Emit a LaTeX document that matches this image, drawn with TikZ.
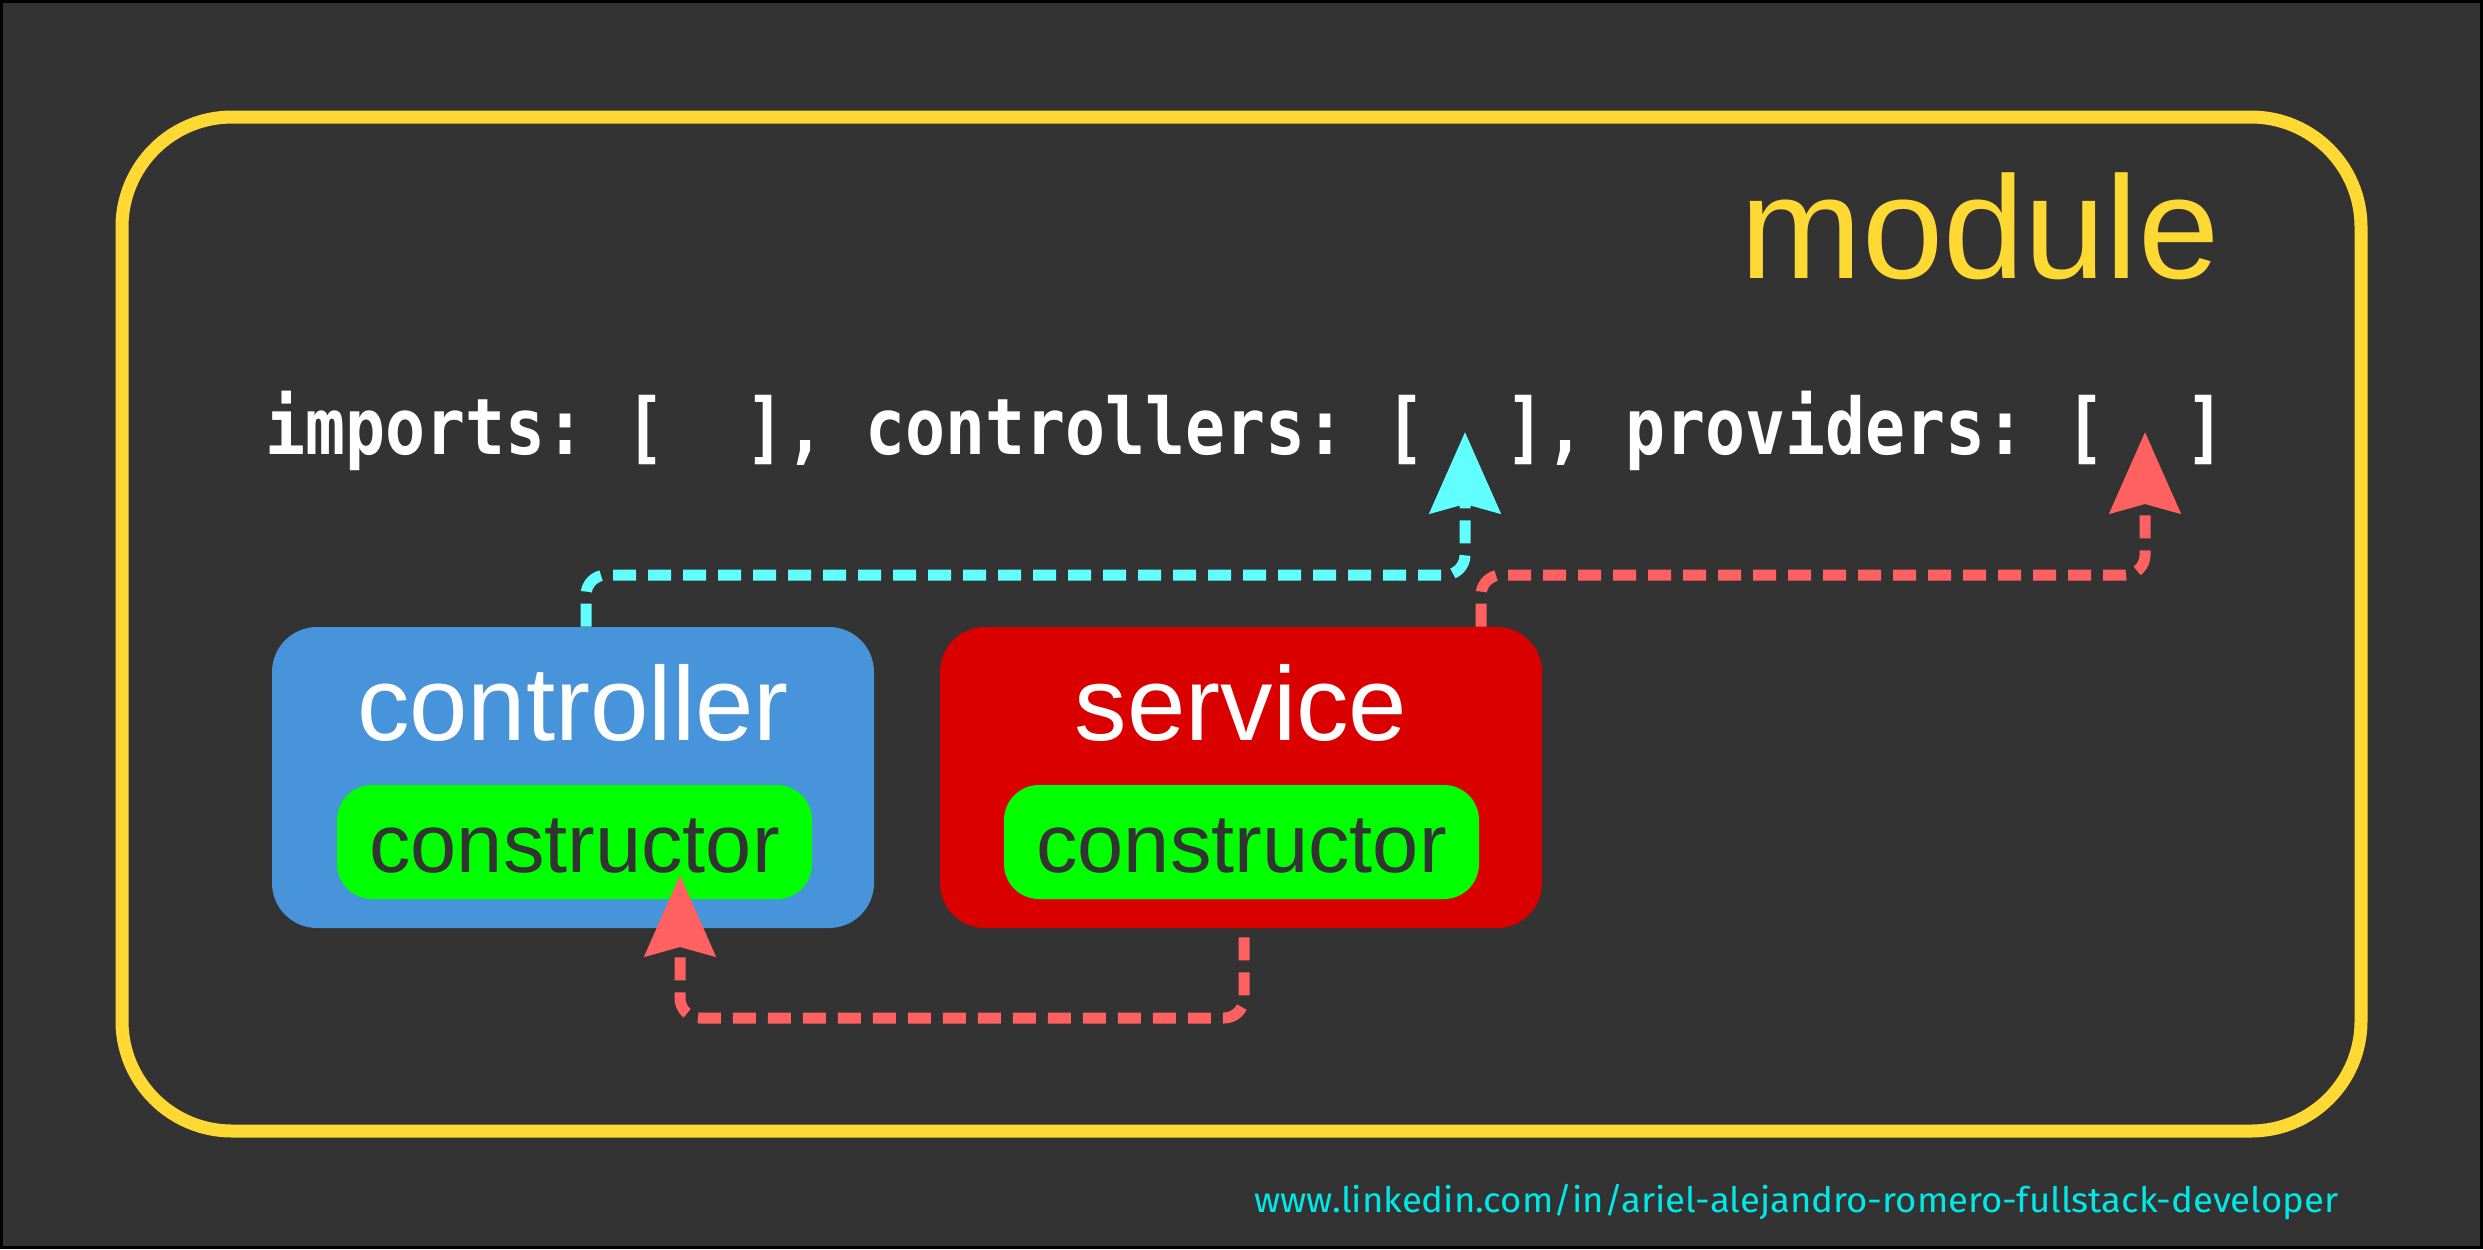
\documentclass[tikz,border=0pt]{standalone}
\usepackage{fontspec}
\usepackage{graphicx}
\setmainfont{Liberation Sans}
\newfontface\codefont{DejaVu Sans Mono Bold}
\newfontfamily\linkfont{Fira Sans}
\usetikzlibrary{arrows.meta,calc}
\definecolor{bg}{HTML}{333333}
\definecolor{modyellow}{HTML}{FFD933}
\definecolor{ctlblue}{HTML}{4794DB}
\definecolor{svcred}{HTML}{DB0000}
\definecolor{ctorgreen}{HTML}{00FF00}
\definecolor{linkcyan}{HTML}{00E8E8}
\definecolor{arrcyan}{HTML}{61FFFF}
\definecolor{arrred}{HTML}{FF6161}
\tikzset{
  modbox/.style={rectangle, draw=modyellow, line width=6.5pt, rounded corners=55pt,
    minimum width=1119.5pt, minimum height=507pt, inner sep=0pt},
  bigbox/.style={rectangle, draw=none, rounded corners=22.5pt,
    minimum width=301pt, minimum height=150.5pt, inner sep=0pt},
  ctorbox/.style={rectangle, draw=none, fill=ctorgreen, rounded corners=17.5pt,
    minimum width=237.5pt, minimum height=57pt, inner sep=0pt},
  boxlabel/.style={anchor=base, inner sep=0pt, text=white, font=\fontsize{52.5}{60}\selectfont},
  ctorlabel/.style={anchor=base, inner sep=0pt, text=bg, font=\fontsize{41.5}{48}\selectfont},
  dashconn/.style={line width=5.5pt, dash pattern=on 11.5pt off 6pt, rounded corners=10pt,
    -{Stealth[length=40.5pt,width=35pt,inset=4.5pt]}},
}
\begin{document}
\begin{tikzpicture}[x=0.5pt,y=-0.5pt]
\useasboundingbox (0,0) rectangle (2483,1249);
\fill[black] (0,0) rectangle (2483,1249);
\fill[bg] (3,3) rectangle (2480,1246);

% module frame
\node[modbox] (mod) at (1241.5,624) {};
\node[anchor=base, inner sep=0pt, text=modyellow, font=\fontsize{73}{84}\selectfont] (modtxt) at (1980,278) {module};

% code line
\node[anchor=base west, inner sep=0pt, text=white, font=\codefont\fontsize{39}{46}\selectfont] (code) at (265,454)
  {\frenchspacing\resizebox{980pt}{\height}{imports:\ [\ \ ],\ controllers:\ [\ \ ],\ providers:\ [\ \ ]}};

% boxes
\node[bigbox, fill=ctlblue] (ctl) at (573,777.5) {};
\node[bigbox, fill=svcred] (svc) at (1241,777.5) {};
\node[boxlabel] (ctltxt) at (573,740) {controller};
\node[boxlabel] (svctxt) at (1241,740) {service};
\node[ctorbox] (ctlc) at (574.5,842) {};
\node[ctorbox] (svcc) at (1241.5,842) {};
\node[ctorlabel] (ctlctxt) at (574.5,872) {constructor};
\node[ctorlabel] (svcctxt) at (1241.5,872) {constructor};

% targets
\coordinate (ctlslot) at (1465,432);
\coordinate (provslot) at (2145,432);
\coordinate (ctortip) at (680,875);
\coordinate (toplevel) at (0,575);
\coordinate (botlevel) at (0,1018);

% connectors
\draw[dashconn, arrcyan] ([xshift=6.5pt]ctl.north) -- ([xshift=6.5pt]ctl.north |- toplevel) -| (ctlslot);
\draw[dashconn, arrred] ([xshift=120pt]svc.north) -- ([xshift=120pt]svc.north |- toplevel) -| (provslot);
\draw[dashconn, arrred, shorten <=4.5pt] ([xshift=1.5pt]svc.south) -- ([xshift=1.5pt]svc.south |- botlevel) -| (ctortip);

% footer
\node[anchor=base west, inner sep=0pt, text=linkcyan, font=\linkfont\fontsize{17.5}{20}\selectfont] (link) at (1254,1212)
  {\resizebox{542pt}{\height}{www.linkedin.com/in/ariel-alejandro-romero-fullstack-developer}};
\end{tikzpicture}
\end{document}
